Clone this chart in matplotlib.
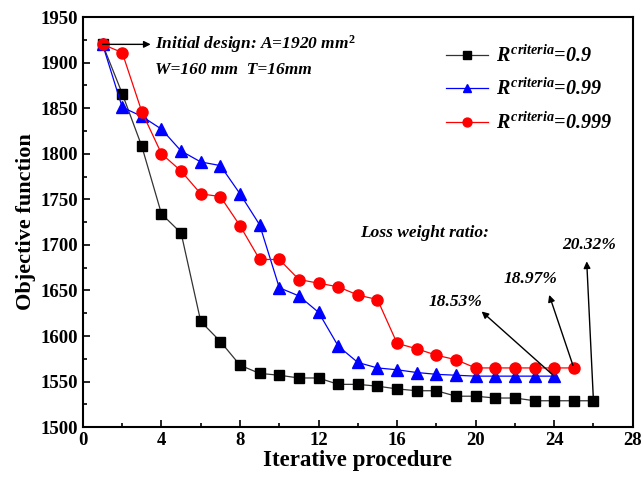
import matplotlib

matplotlib.use("Agg")

import matplotlib.pyplot as plt
from matplotlib.ticker import MultipleLocator

# R^criteria = 0.9
iter_09 = list(range(1, 27))
obj_09 = [1920, 1866, 1808, 1734, 1713, 1616, 1594, 1568, 1559, 1557,
          1554, 1554, 1547, 1547, 1545, 1542, 1540, 1540, 1534, 1534,
          1532, 1532, 1529, 1529, 1529, 1529]

# R^criteria = 0.99
iter_099 = list(range(1, 25))
obj_099 = [1920, 1851, 1841, 1827, 1803, 1791, 1787, 1756, 1722, 1653,
           1644, 1626, 1589, 1571, 1565, 1563, 1560, 1558, 1557, 1556,
           1556, 1556, 1556, 1556]

# R^criteria = 0.999
iter_0999 = list(range(1, 26))
obj_0999 = [1920, 1911, 1846, 1800, 1781, 1756, 1753, 1721, 1684, 1684,
            1662, 1658, 1654, 1645, 1640, 1592, 1586, 1579, 1574, 1565,
            1565, 1565, 1565, 1565, 1565]

ratio_labels = ["18.53%", "18.97%", "20.32%"]

plt.rcParams["font.family"] = ["Liberation Serif", "DejaVu Serif"]
plt.rcParams["mathtext.fontset"] = "custom"
plt.rcParams["mathtext.it"] = "Liberation Serif:italic:bold"
plt.rcParams["mathtext.rm"] = "Liberation Serif:bold"

fig = plt.figure(figsize=(6.43, 4.86), dpi=100)
ax = fig.add_axes([0.129, 0.121, 0.855, 0.844])

ax.plot(iter_09, obj_09, color="#333333", lw=0.9, marker="s", ms=7,
        mfc="black", mec="black", label=r"$R^{criteria}$=0.9")
ax.plot(iter_099, obj_099, color="blue", lw=0.9, marker="^", ms=8,
        mfc="blue", mec="blue", label=r"$R^{criteria}$=0.99")
ax.plot(iter_0999, obj_0999, color="red", lw=0.9, marker="o", ms=8,
        mfc="red", mec="red", label=r"$R^{criteria}$=0.999")

ax.set_xlim(0, 28)
ax.set_ylim(1500, 1950)
ax.xaxis.set_major_locator(MultipleLocator(4))
ax.xaxis.set_minor_locator(MultipleLocator(2))
ax.yaxis.set_major_locator(MultipleLocator(50))
ax.yaxis.set_minor_locator(MultipleLocator(25))
ax.tick_params(which="both", direction="in", width=1.2)
ax.tick_params(which="major", length=5, labelsize=13.5)
ax.tick_params(which="minor", length=3)
for lbl in ax.get_xticklabels() + ax.get_yticklabels():
    lbl.set_fontweight("bold")
for sp in ax.spines.values():
    sp.set_linewidth(1.5)

ax.set_xlabel("Iterative procedure", fontsize=16.5, fontweight="bold", labelpad=1)
ax.set_ylabel("Objective function", fontsize=16, fontweight="bold", labelpad=3)

leg = ax.legend(loc="upper right", bbox_to_anchor=(0.995, 0.975), frameon=False,
                fontsize=14.5, handlelength=2.1, handletextpad=0.4,
                labelspacing=0.6, markerscale=0.8)
for t in leg.get_texts():
    t.set_fontweight("bold")
    t.set_fontstyle("italic")

txt = dict(fontsize=12.5, fontweight="bold", fontstyle="italic")
ax.annotate("", xy=(3.45, obj_09[0]), xytext=(1, obj_09[0]),
            arrowprops=dict(arrowstyle="-|>", color="black", lw=1,
                            shrinkA=0, shrinkB=0))
ax.text(3.65, obj_09[0], r"Initial design: A=1920 mm$^2$", va="center", **txt)
ax.text(3.65, 1892, "W=160 mm  T=16mm", va="center", **txt)
ax.text(14.1, 1713, "Loss weight ratio:", va="center", **txt)

# arrows from the final iteration of each run to its ratio label
ends = [(iter_099[-1], obj_099[-1]), (iter_0999[-1], obj_0999[-1]),
        (iter_09[-1], obj_09[-1])]
tips = [(20.2, 1629), (23.7, 1648), (25.65, 1685)]
label_pos = [(17.6, 1637), (21.4, 1663), (24.4, 1700)]
for (x0, y0), (x1, y1), (tx, ty), lab in zip(ends, tips, label_pos, ratio_labels):
    ax.annotate("", xy=(x1, y1), xytext=(x0, y0),
                arrowprops=dict(arrowstyle="-|>", color="black", lw=1))
    ax.text(tx, ty, lab, va="center", **txt)

fig.savefig("out.png", dpi=100)
